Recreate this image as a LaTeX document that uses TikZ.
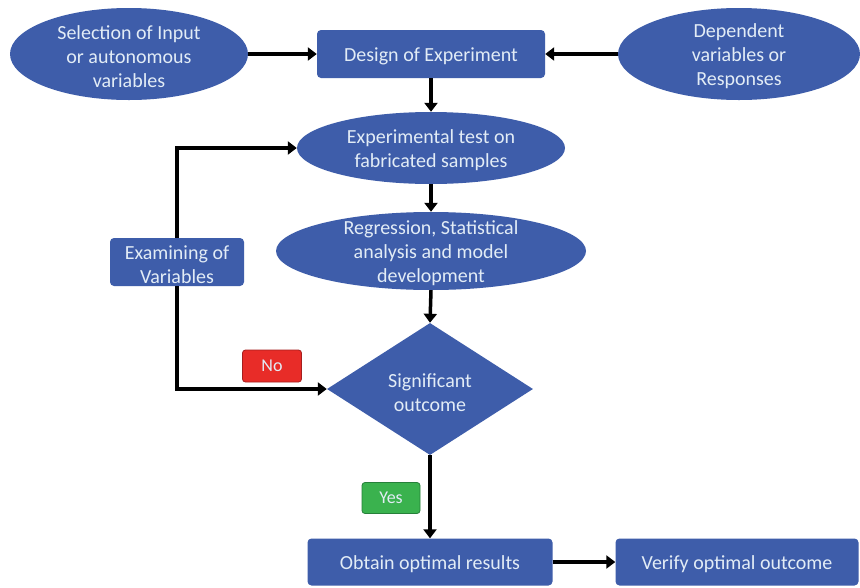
\documentclass[tikz,border=0pt]{standalone}
\usepackage{fontspec}
\setmainfont{Carlito}
\usetikzlibrary{shapes.geometric,arrows.meta}
\definecolor{boxblue}{RGB}{62,93,170}
\definecolor{textlight}{RGB}{226,236,246}
\definecolor{noRed}{RGB}{232,44,40}
\definecolor{noEdge}{RGB}{165,30,30}
\definecolor{yesGreen}{RGB}{58,178,78}
\definecolor{yesEdge}{RGB}{38,128,58}

\begin{document}
\begin{tikzpicture}[x=1pt,y=-1pt,
  shapebase/.style={fill=boxblue, draw=none, inner sep=0pt},
  oval/.style={shapebase, ellipse},
  stepbox/.style={shapebase, rectangle, rounded corners=4pt},
  decision/.style={shapebase, diamond},
  caption/.style={text=textlight, align=center, inner sep=0pt, yshift=-2.5pt,
    font=\fontsize{20}{24}\selectfont},
  arr/.style={line width=3.5pt, -{Triangle[length=9pt,width=13pt]}},
  tag/.style={rectangle, rounded corners=3pt, line width=0.8pt, inner sep=0pt,
    text=textlight, font=\fontsize{18}{20}\selectfont}
]
\useasboundingbox (0,0) rectangle (860,587);
\fill[white] (0,0) rectangle (860,587);

% inputs and the design step
\node[oval, minimum width=238pt, minimum height=92pt] (sel) at (129,54) {};
\node[caption] (selt) at (sel.center) {Selection of Input\\or autonomous\\variables};
\node[stepbox, minimum width=228pt, minimum height=48pt] (doe) at (431,54) {};
\node[caption] (doet) at (doe.center) {Design of Experiment};
\node[oval, minimum width=242pt, minimum height=92pt] (dep) at (739,54) {};
\node[caption] (dept) at (dep.center) {Dependent\\variables or\\Responses};

% testing and analysis
\node[oval, minimum width=268pt, minimum height=72pt] (exp) at (431,148) {};
\node[caption] (expt) at (exp.center) {Experimental test on\\fabricated samples};
\node[oval, minimum width=310pt, minimum height=78pt] (reg) at (431,251) {};
\node[caption] (regt) at (reg.center) {Regression, Statistical\\analysis and model\\development};

% decision
\node[decision, minimum width=206pt, minimum height=132pt] (sig) at (430,389) {};
\node[caption, yshift=-1.5pt] (sigt) at (sig.center) {Significant\\outcome};

% feedback loop
\node[stepbox, minimum width=134pt, minimum height=48pt] (exam) at (177,262) {};
\node[caption] (examt) at (exam.center) {Examining of\\Variables};

% results
\node[stepbox, minimum width=245pt, minimum height=47pt] (obt) at (430,562) {};
\node[caption] (obtt) at (obt.center) {Obtain optimal results};
\node[stepbox, minimum width=243pt, minimum height=47pt] (ver) at (737,562) {};
\node[caption] (vert) at (ver.center) {Verify optimal outcome};

% branch tags
\node[tag, fill=noRed, draw=noEdge, minimum width=59pt, minimum height=32pt] (no) at (272,366) {No};
\node[tag, fill=yesGreen, draw=yesEdge, minimum width=58pt, minimum height=31pt] (yes) at (391,498) {Yes};

% connectors
\draw[arr] (sel.east) -- (doe.west);
\draw[arr] (dep.west) -- (doe.east);
\draw[arr] (doe.south) -- (exp.north);
\draw[arr] (exp.south) -- (reg.north);
\draw[arr] (reg.south) -- (sig.north);
\draw[arr] (sig.south) -- (obt.north);
\draw[arr] (obt.east) -- (ver.west);
\draw[arr] (exam.north) |- (exp.west);
\draw[arr] (exam.south) |- (sig.west);
\end{tikzpicture}
\end{document}
